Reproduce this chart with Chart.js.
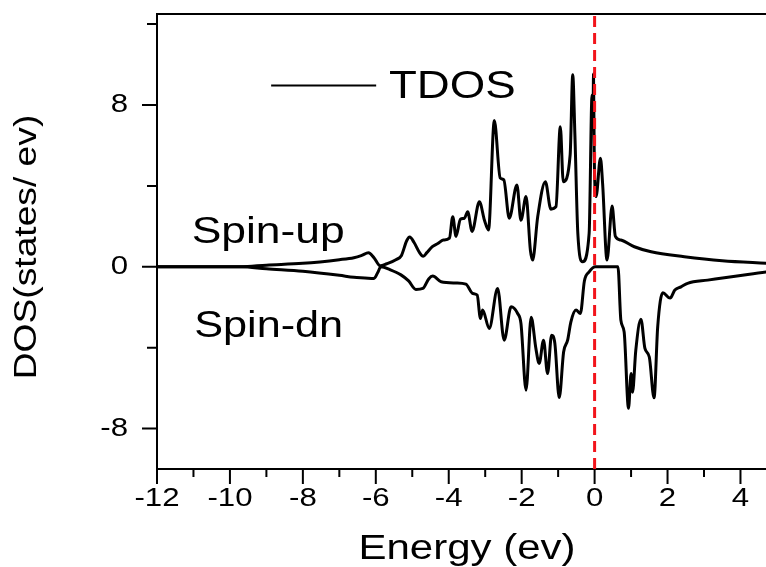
<!DOCTYPE html>
<html>
<head>
<meta charset="utf-8">
<script src="https://cdn.jsdelivr.net/npm/chart.js@4.4.1/dist/chart.umd.min.js"></script>
<style>
  html, body { margin: 0; padding: 0; background: #fff; overflow: hidden; }
  #wrap { width: 766px; height: 567px; position: relative; }
</style>
</head>
<body>
<div id="wrap"><canvas id="dos"></canvas></div>
<script>
// spin-up TDOS (positive branch)
const upEnergy = [-12, -9.7, -9.0, -8.0, -7.0, -6.6, -6.4, -6.2, -6.05, -5.88, -5.7, -5.45, -5.3, -5.15, -5.07,
  -4.95, -4.8, -4.7, -4.6, -4.45, -4.3, -4.15, -3.98, -3.89, -3.8, -3.68, -3.57, -3.48, -3.36, -3.16,
  -3.02, -2.91, -2.75, -2.59, -2.49, -2.34, -2.13, -2.02, -1.88, -1.76, -1.7, -1.56, -1.35, -1.2, -1.06,
  -0.94, -0.86, -0.67, -0.6, -0.54, -0.46, -0.33, -0.15, -0.07, -0.04, -0.03, -0.01, 0.04, 0.16, 0.22,
  0.34, 0.48, 0.57, 0.72, 1.09, 1.55, 2.46, 3.5, 4.75];
const upDos = [0, 0, 0.08, 0.17, 0.35, 0.45, 0.55, 0.69, 0.45, 0.05, 0.15, 0.35, 0.55, 1.3, 1.47,
  1.2, 0.7, 0.52, 0.7, 1.0, 1.15, 1.32, 1.42, 2.48, 1.5, 2.35, 2.4, 2.72, 1.75, 3.22,
  2.3, 1.82, 7.23, 4.4, 4.3, 2.4, 4.05, 2.3, 3.47, 0.8, 0.33, 2.48, 4.21, 2.85, 2.97,
  6.93, 4.21, 5.55, 9.49, 6.5, 1.65, 0.25, 1.65, 8.5, 8.0, 9.55, 5.5, 3.47, 5.37, 4.1,
  0.33, 3.0, 1.5, 1.32, 0.99, 0.74, 0.5, 0.3, 0.17];

// spin-down TDOS (negative branch)
const dnEnergy = [-12, -9.7, -9.0, -8.0, -7.0, -6.6, -6.3, -6.05, -5.95, -5.86, -5.6, -5.31, -5.1, -4.9, -4.71,
  -4.55, -4.44, -4.21, -3.8, -3.53, -3.34, -3.22, -3.13, -3.07, -2.89, -2.66, -2.48, -2.29, -2.11, -2.02,
  -1.88, -1.74, -1.61, -1.52, -1.4, -1.29, -1.18, -1.09, -0.97, -0.85, -0.74, -0.65, -0.51, -0.39, -0.28,
  -0.15, 0.02, 0.64, 0.72, 0.81, 0.93, 1.0, 1.04, 1.13, 1.27, 1.38, 1.5, 1.63, 1.73, 1.87,
  2.07, 2.2, 2.37, 2.55, 3.1, 4.75];
const dnDos = [0, 0, -0.1, -0.22, -0.42, -0.52, -0.55, -0.58, -0.3, 0, -0.15, -0.4, -0.7, -1.12, -1.07,
  -0.6, -0.46, -0.74, -0.8, -0.86, -1.32, -1.4, -2.56, -2.14, -3.05, -1.07, -3.63, -1.98, -2.31, -2.8,
  -6.1, -2.5, -4.04, -4.78, -3.63, -5.28, -3.38, -3.79, -6.47, -4.21, -3.63, -2.72, -2.14, -2.31, -0.7,
  -0.25, 0, 0, -2.64, -3.22, -7.0, -5.28, -6.2, -4.12, -2.6, -4.04, -4.46, -6.48, -2.97, -1.28,
  -1.55, -1.15, -0.99, -0.82, -0.66, -0.25];

const fermiLevel = 0;

// ticks
const xTicks = [-12, -10, -8, -6, -4, -2, 0, 2, 4];
const xMinorTicks = [-11, -9, -7, -5, -3, -1, 1, 3];
const yTicks = [-8, 0, 8];
const yMinorTicks = [-4, 4, 12];

const xRange = [-12, 4.7];
const yRange = [-10, 12.5];

const FONT = '"Liberation Sans", Arial, sans-serif';
const STRETCH = 1.2;

function toPoints(xs, ys) {
    return xs.map(function (x, i) { return { x: x, y: ys[i] }; });
}

function stretchedText(ctx, text, x, y, size, align, baseline) {
    ctx.save();
    ctx.translate(x, y);
    ctx.scale(STRETCH, 1);
    ctx.font = size + 'px ' + FONT;
    ctx.fillStyle = '#000';
    ctx.textAlign = align;
    ctx.textBaseline = baseline;
    ctx.fillText(text, 0, 0);
    ctx.restore();
}

// frame, ticks, labels and in-plot annotations
const decor = {
    id: 'decor',
    afterDraw: function (chart) {
        const ctx = chart.ctx;
        const xs = chart.scales.x;
        const ys = chart.scales.y;
        const area = chart.chartArea;

        ctx.save();
        ctx.strokeStyle = '#000';
        ctx.lineWidth = 2;
        ctx.beginPath();
        ctx.moveTo(area.left, area.top);
        ctx.lineTo(area.right, area.top);
        xTicks.forEach(function (v) {
            const px = xs.getPixelForValue(v);
            ctx.moveTo(px, area.bottom);
            ctx.lineTo(px, area.bottom + 15);
        });
        xMinorTicks.forEach(function (v) {
            const px = xs.getPixelForValue(v);
            ctx.moveTo(px, area.bottom);
            ctx.lineTo(px, area.bottom + 8);
        });
        yTicks.forEach(function (v) {
            const py = ys.getPixelForValue(v);
            ctx.moveTo(area.left, py);
            ctx.lineTo(area.left - 15, py);
        });
        yMinorTicks.forEach(function (v) {
            const py = ys.getPixelForValue(v);
            ctx.moveTo(area.left, py);
            ctx.lineTo(area.left - 10, py);
        });
        ctx.stroke();
        ctx.restore();

        xTicks.forEach(function (v) {
            stretchedText(ctx, String(v), xs.getPixelForValue(v), area.bottom + 30, 26, 'center', 'middle');
        });
        yTicks.forEach(function (v) {
            stretchedText(ctx, String(v), area.left - 29, ys.getPixelForValue(v), 26, 'right', 'middle');
        });

        // axis titles
        stretchedText(ctx, 'Energy (ev)', 467, 549, 35, 'center', 'middle');
        ctx.save();
        ctx.translate(27, 247);
        ctx.rotate(-Math.PI / 2);
        stretchedText(ctx, 'DOS(states/ ev)', 0, 0, 31, 'center', 'middle');
        ctx.restore();

        // legend
        ctx.save();
        ctx.strokeStyle = '#000';
        ctx.lineWidth = 2;
        ctx.beginPath();
        ctx.moveTo(xs.getPixelForValue(-8.87), ys.getPixelForValue(8.97));
        ctx.lineTo(xs.getPixelForValue(-5.99), ys.getPixelForValue(8.97));
        ctx.stroke();
        ctx.restore();
        stretchedText(ctx, 'TDOS', xs.getPixelForValue(-5.64), ys.getPixelForValue(8.37), 38, 'left', 'alphabetic');

        stretchedText(ctx, 'Spin-up', xs.getPixelForValue(-11.05), ys.getPixelForValue(1.17), 37, 'left', 'alphabetic');
        stretchedText(ctx, 'Spin-dn', xs.getPixelForValue(-10.98), ys.getPixelForValue(-3.47), 36, 'left', 'alphabetic');
    }
};

const ctx = document.getElementById('dos').getContext('2d');
const dosChart = new Chart(ctx, {
    type: 'line',
    data: {
        datasets: [{
            label: 'Fermi level',
            data: [{ x: fermiLevel, y: yRange[0] }, { x: fermiLevel, y: yRange[1] }],
            borderColor: '#f2141b',
            borderWidth: 3,
            borderDash: [11, 6],
            pointRadius: 0,
            order: 0
        }, {
            label: 'Spin-up',
            data: toPoints(upEnergy, upDos),
            borderColor: '#000',
            borderWidth: 3,
            pointRadius: 0,
            cubicInterpolationMode: 'monotone',
            order: 1
        }, {
            label: 'Spin-dn',
            data: toPoints(dnEnergy, dnDos),
            borderColor: '#000',
            borderWidth: 3,
            pointRadius: 0,
            cubicInterpolationMode: 'monotone',
            order: 1
        }]
    },
    options: {
        responsive: true,
        maintainAspectRatio: false,
        animation: false,
        parsing: false,
        layout: {
            padding: { left: 157, top: 14, right: 0, bottom: 98 }
        },
        plugins: {
            legend: { display: false },
            tooltip: { enabled: false }
        },
        scales: {
            x: {
                type: 'linear',
                min: xRange[0],
                max: xRange[1],
                grid: { display: false, drawTicks: false },
                ticks: { display: false },
                border: { display: true, color: '#000', width: 2 }
            },
            y: {
                type: 'linear',
                min: yRange[0],
                max: yRange[1],
                grid: { display: false, drawTicks: false },
                ticks: { display: false },
                border: { display: true, color: '#000', width: 2 }
            }
        }
    },
    plugins: [decor]
});
</script>
</body>
</html>
